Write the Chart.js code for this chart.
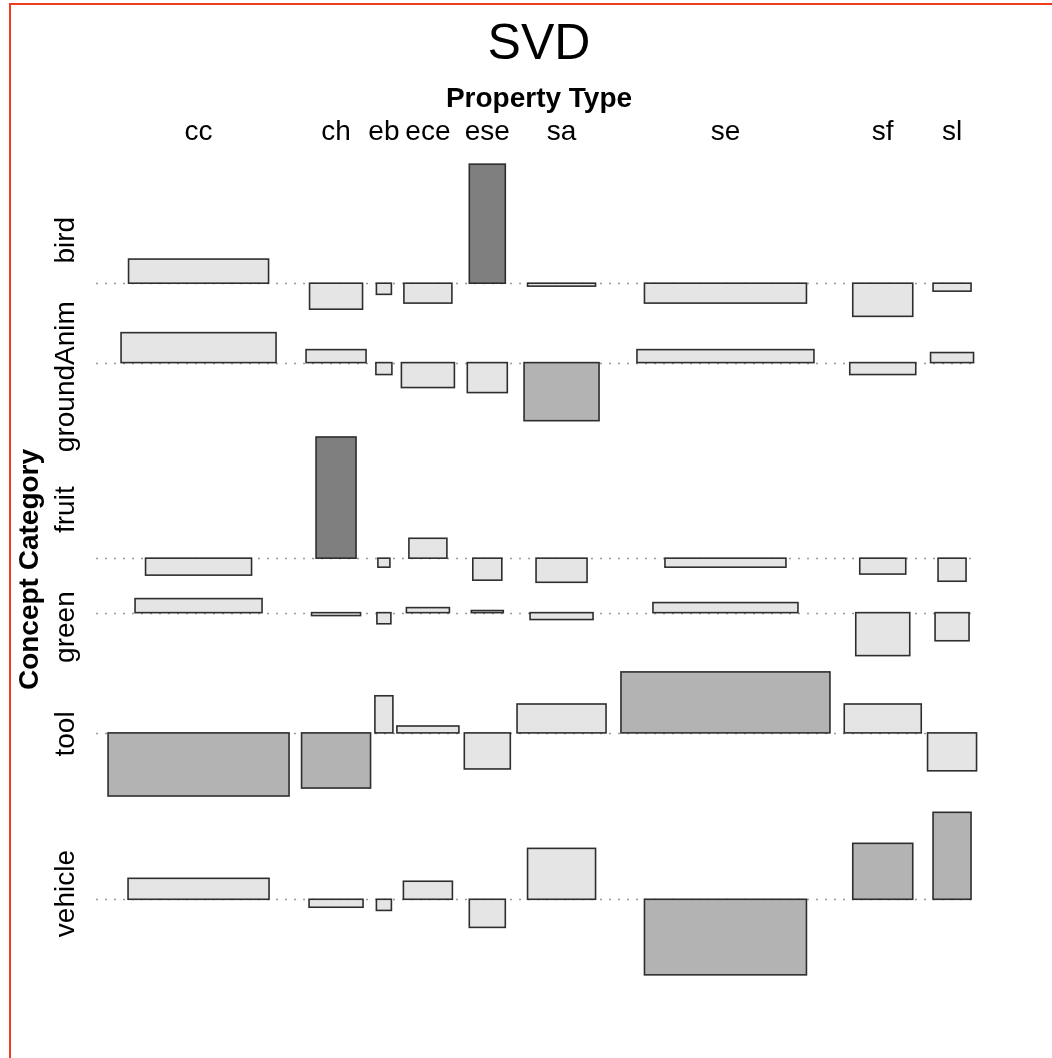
<!DOCTYPE html>
<html>
<head>
<meta charset="utf-8">
<title>SVD</title>
<script src="https://cdn.jsdelivr.net/npm/chart.js@4.4.1/dist/chart.umd.min.js"></script>
<style>
  html, body { margin: 0; padding: 0; background: #fff; overflow: hidden; }
  .frame { position: absolute; left: 9px; top: 3px; width: 1100px; height: 1100px;
    border-top: 2px solid #ef3c1f; border-left: 2px solid #ef3c1f; pointer-events: none; }
  .chart--box { position: absolute; left: 0; top: 0; width: 1052px; height: 1058px; }
</style>
</head>
<body>
<div class="chart--box"><canvas class="myChart"></canvas></div>
<div class="frame"></div>
<script>
// categories
const rows = ['bird', 'groundAnim', 'fruit', 'green', 'tool', 'vehicle'];
const cols = ['cc', 'ch', 'eb', 'ece', 'ese', 'sa', 'se', 'sf', 'sl'];

// Pearson residuals (bar heights), one array per concept category, in column order
const birdRes = [0.91, -0.98, -0.42, -0.75, 4.49, -0.11, -0.75, -1.25, -0.30];
const groundAnimRes = [1.13, 0.49, -0.45, -0.94, -1.13, -2.19, 0.49, -0.45, 0.38];
const fruitRes = [-0.64, 4.57, -0.34, 0.75, -0.83, -0.91, -0.34, -0.60, -0.87];
const greenRes = [0.53, -0.11, -0.42, 0.19, 0.08, -0.26, 0.38, -1.62, -1.06];
const toolRes = [-2.38, -2.08, 1.40, 0.26, -1.36, 1.09, 2.30, 1.09, -1.43];
const vehicleRes = [0.79, -0.30, -0.42, 0.68, -1.06, 1.92, -2.85, 2.11, 3.28];

// sqrt(expected) (bar widths), same layout
const birdW = [14.0, 5.3, 1.5, 4.8, 3.6, 6.8, 16.2, 6.0, 3.8];
const groundAnimW = [15.5, 6.0, 1.6, 5.3, 4.0, 7.5, 17.7, 6.6, 4.3];
const fruitW = [10.6, 4.0, 1.2, 3.8, 2.9, 5.1, 12.1, 4.6, 2.8];
const greenW = [12.7, 4.9, 1.4, 4.3, 3.2, 6.3, 14.5, 5.4, 3.4];
const toolW = [18.1, 6.9, 1.8, 6.2, 4.6, 8.9, 20.9, 7.7, 4.9];
const vehicleW = [14.1, 5.4, 1.5, 4.9, 3.6, 6.8, 16.2, 6.0, 3.8];

const resid = [birdRes, groundAnimRes, fruitRes, greenRes, toolRes, vehicleRes];
const widths = [birdW, groundAnimW, fruitW, greenW, toolW, vehicleW];

const SPACE = 0.1; // horizontal spacing, fraction of the widest cell of a column
const GAP = 0.615; // vertical gap between rows, in residual units
const FONT = "'Liberation Sans', Arial, Helvetica, sans-serif";

// column centres : each column gets its widest cell plus spacing
const colMax = cols.map((c, j) => Math.max(...widths.map(w => w[j])));
const colCenters = [];
let colCur = 0;
colMax.forEach(m => {
  const slot = m * (1 + SPACE);
  colCenters.push(colCur + slot / 2);
  colCur += slot;
});
const xMax = colCur;

// row baselines : each row takes its biggest positive + negative residual
const rowPos = resid.map(r => Math.max(0, ...r));
const rowNeg = resid.map(r => Math.max(0, ...r.map(v => -v)));
const baselines = [];
const rowMids = [];
let rowCur = 0;
rows.forEach((r, i) => {
  const base = rowCur - GAP / 2 - rowPos[i];
  baselines.push(base);
  rowMids.push(base + (rowPos[i] - rowNeg[i]) / 2);
  rowCur -= rowPos[i] + rowNeg[i] + GAP;
});
const yMin = rowCur;

// shading by size of the residual
const shade = v => {
  const a = Math.abs(v);
  if (a > 4) return '#7f7f7f';
  if (a > 2) return '#b3b3b3';
  return '#e5e5e5';
};

// one point per cell, at the tip of the bar
const cells = [];
rows.forEach((r, i) => {
  cols.forEach((c, j) => {
    cells.push({ x: colCenters[j], y: baselines[i] + resid[i][j], base: baselines[i], w: widths[i][j], r: resid[i][j] });
  });
});

// dotted baselines under the bars
const baselinePlugin = {
  id: 'baselines',
  beforeDatasetsDraw(chart) {
    const { ctx, chartArea, scales } = chart;
    ctx.save();
    ctx.strokeStyle = '#9a9a9a';
    ctx.lineWidth = 1.3;
    ctx.setLineDash([2, 7]);
    baselines.forEach(b => {
      const y = Math.round(scales.y.getPixelForValue(b)) + 0.5;
      ctx.beginPath();
      ctx.moveTo(chartArea.left - 3, y);
      ctx.lineTo(chartArea.right - 3, y);
      ctx.stroke();
    });
    ctx.restore();
  },
};

// association rectangles, placed with the chart scales
const rectPlugin = {
  id: 'assocRects',
  afterDatasetsDraw(chart) {
    const { ctx, scales } = chart;
    ctx.save();
    ctx.strokeStyle = '#2e2e2e';
    ctx.lineWidth = 1.6;
    cells.forEach(c => {
      const x0 = scales.x.getPixelForValue(c.x - c.w / 2);
      const x1 = scales.x.getPixelForValue(c.x + c.w / 2);
      const y0 = scales.y.getPixelForValue(c.base);
      const y1 = scales.y.getPixelForValue(c.base + c.r);
      ctx.fillStyle = shade(c.r);
      ctx.fillRect(x0, Math.min(y0, y1), x1 - x0, Math.abs(y1 - y0));
      ctx.strokeRect(x0, Math.min(y0, y1), x1 - x0, Math.abs(y1 - y0));
    });
    ctx.restore();
  },
  // row names, rotated, centred on the rows
  afterDraw(chart) {
    const { ctx, chartArea, scales } = chart;
    ctx.save();
    ctx.font = '28px ' + FONT;
    ctx.fillStyle = '#000';
    ctx.textAlign = 'center';
    ctx.textBaseline = 'alphabetic';
    rows.forEach((r, i) => {
      ctx.save();
      ctx.translate(chartArea.left - 25, scales.y.getPixelForValue(rowMids[i]));
      ctx.rotate(-Math.PI / 2);
      ctx.fillText(r, 0, 0);
      ctx.restore();
    });
    ctx.restore();
  },
};

const ctx = document.querySelector('.myChart').getContext('2d');
new Chart(ctx, {
  type: 'scatter',
  data: {
    datasets: [{ data: cells, pointRadius: 0, pointHoverRadius: 0, showLine: false }],
  },
  options: {
    responsive: true,
    maintainAspectRatio: false,
    animation: false,
    devicePixelRatio: 1,
    layout: { padding: { left: 0, right: 73, top: 0, bottom: 75 } },
    plugins: {
      legend: { display: false },
      tooltip: { enabled: false },
      title: {
        display: true,
        fullSize: false,
        text: 'SVD',
        color: '#000',
        font: { family: FONT, size: 50, weight: 'normal' },
        padding: { top: 15, bottom: 0 },
      },
    },
    scales: {
      x: {
        type: 'linear',
        position: 'top',
        min: 0,
        max: xMax,
        grid: { display: false },
        border: { display: false },
        afterBuildTicks: s => { s.ticks = colCenters.map(v => ({ value: v })); },
        afterFit: s => { s.height = 81; },
        ticks: {
          autoSkip: false,
          maxRotation: 0,
          padding: -1,
          color: '#000',
          font: { family: FONT, size: 28 },
          callback: (v, i) => cols[i],
        },
        title: {
          display: true,
          text: 'Property Type',
          color: '#000',
          font: { family: FONT, size: 28, weight: 'bold' },
          padding: { top: 7, bottom: 0 },
        },
      },
      y: {
        type: 'linear',
        min: yMin,
        max: 0,
        grid: { display: false },
        border: { display: false },
        ticks: { display: false },
        afterFit: s => { s.width = 99; },
        title: {
          display: true,
          text: 'Concept Category',
          color: '#000',
          font: { family: FONT, size: 28, weight: 'bold' },
          padding: { top: 13.5, bottom: 0 },
        },
      },
    },
  },
  plugins: [baselinePlugin, rectPlugin],
});
</script>
</body>
</html>
